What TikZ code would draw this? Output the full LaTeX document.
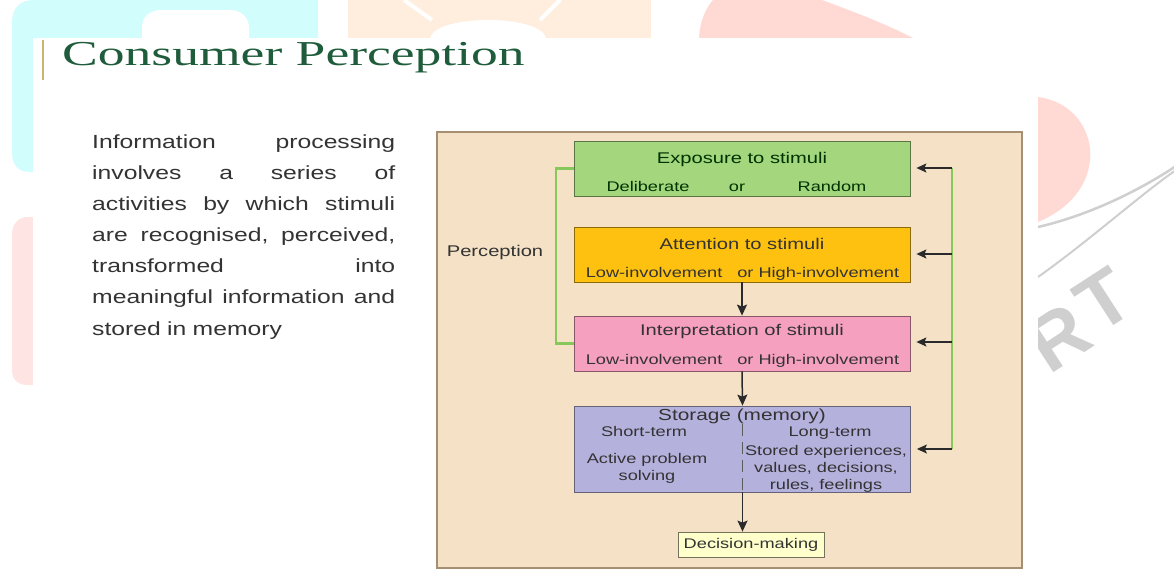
\documentclass[tikz,border=0pt]{standalone}
\usepackage{fontspec}
\setmainfont{Liberation Sans}
\newfontfamily\sfst[FakeStretch=1.3]{Liberation Sans}
\newfontfamily\titlefnt[FakeStretch=1.53]{Liberation Serif}
\newfontfamily\wmfnt{Liberation Sans}
\usetikzlibrary{arrows.meta}
\definecolor{titlegreen}{HTML}{1F5C3B}
\definecolor{bartan}{HTML}{C8B46E}
\definecolor{paratext}{HTML}{333333}
\definecolor{panelfill}{HTML}{F5E1C6}
\definecolor{panelborder}{HTML}{A58E72}
\definecolor{boxgreen}{HTML}{A4D67E}
\definecolor{boxorange}{HTML}{FEC10F}
\definecolor{boxpink}{HTML}{F5A0BF}
\definecolor{boxpurple}{HTML}{B5B1DD}
\definecolor{boxyellow}{HTML}{FFFFCC}
\definecolor{glinecol}{HTML}{86C95A}
\definecolor{arrowdark}{HTML}{2A2A2A}
\definecolor{wmcyan}{HTML}{D2FDFD}
\definecolor{wmorange}{HTML}{FFEEDD}
\definecolor{wmpink}{HTML}{FFDAD5}
\definecolor{wmred}{HTML}{FFE4E4}
\definecolor{wmgrey}{HTML}{CFCFCF}
\newcommand{\jline}[1]{\leavevmode\hbox to 303pt{#1}}
\begin{document}
\begin{tikzpicture}[x=1pt,y=-1pt,
  stagebox/.style={draw=#1!55!black, fill=#1, line width=0.8pt, inner sep=0pt,
     minimum width=336pt, minimum height=55pt},
  txt/.style={inner sep=0pt, anchor=base, text=paratext, font=\sfst\fontsize{14}{16}\selectfont},
  ttl/.style={txt, font=\sfst\fontsize{15.5}{18}\selectfont},
  arr/.style={draw=arrowdark, line width=1.5pt, -{Stealth[length=11pt,width=10pt,inset=2pt]}},
  farr/.style={draw=arrowdark, line width=1.1pt, -{Stealth[length=10pt,width=9pt,inset=2pt]}},
  gline/.style={draw=glinecol, line width=2.2pt},
  divider/.style={draw=paratext!80, line width=0.8pt, dash pattern=on 12pt off 6pt},
  wmletter/.style={text=wmgrey, font=\wmfnt\bfseries\fontsize{78}{78}\selectfont, rotate=33, inner sep=0pt}
]
\useasboundingbox (0,0) rectangle (1174,574);
\fill[white] (0,0) rectangle (1174,574);

% ---- faded watermark shapes ----
\fill[wmcyan] (318,0) -- (34,0) .. controls (20,0) and (12,8) .. (12,22) -- (12,152)
   .. controls (12,165) and (18,172) .. (30,172) -- (318,172) -- cycle;
\fill[white] (142,38) -- (142,28) .. controls (142,16) and (150,10) .. (162,10) -- (230,10)
   .. controls (242,10) and (249,18) .. (249,28) -- (249,38) -- cycle;
\fill[wmred] (40,217) -- (28,217) .. controls (18,217) and (12,224) .. (12,235) -- (12,370)
   .. controls (12,380) and (18,385) .. (28,385) -- (40,385) -- cycle;
\fill[wmorange] (348,0) rectangle (651,38);
\fill[white] (430,38) .. controls (436,14) and (540,14) .. (546,38) -- cycle;
\draw[white, line width=4pt] (404,0) -- (432,20);
\draw[white, line width=4pt] (560,0) -- (540,20);
\fill[wmpink] (713,0) -- (822,0) .. controls (860,14) and (890,26) .. (913,38) -- (699,38)
   .. controls (700,20) and (706,8) .. (713,0) -- cycle;
\begin{scope}
  \clip (1038,0) rectangle (1174,574);
  \fill[wmpink] (1038,97) .. controls (1100,105) and (1115,190) .. (1038,222) -- cycle;
  \draw[wmgrey, line width=2.5pt] (1038,227) .. controls (1090,215) and (1140,190) .. (1176,166);
  \draw[wmgrey, line width=2pt] (1038,277) .. controls (1090,240) and (1140,195) .. (1176,170);
  \node[wmletter] (wmr) at (1058,338) {R};
  \node[wmletter] (wmt) at (1104,300) {T};
\end{scope}
\fill[white] (33,38) rectangle (1037,574);

% ---- title ----
\draw[bartan, line width=2pt] (43,40) -- (43,80);
\node[inner sep=0pt, anchor=base west, text=titlegreen, font=\titlefnt\fontsize{35}{40}\selectfont]
   (title) at (62,65) {Consumer Perception};

% ---- paragraph ----
\node[inner sep=0pt, anchor=north west, text width=303pt, text=paratext,
      font=\sfst\fontsize{19}{31.1}\selectfont] (para) at (92,134.5)
 {\jline{Information\hfill processing}\\
  \jline{involves\hfill a\hfill series\hfill of}\\
  \jline{activities\hfill by\hfill which\hfill stimuli}\\
  \jline{are\hfill recognised,\hfill perceived,}\\
  \jline{transformed\hfill into}\\
  \jline{meaningful\hfill information\hfill and}\\
  stored in memory};

% ---- panel ----
\draw[draw=panelborder, fill=panelfill, line width=2.5pt] (437,132) rectangle (1022,568);

% ---- stage boxes ----
\node[stagebox=boxgreen] (exp) at (742,168.5) {};
\node[stagebox=boxorange] (att) at (742,254.5) {};
\node[stagebox=boxpink] (int) at (742,343.5) {};
\node[stagebox=boxpurple, minimum height=86pt] (sto) at (742.5,449) {};
\node[draw=boxyellow!45!black, fill=boxyellow, line width=0.8pt, inner sep=0pt,
      minimum width=146pt, minimum height=25pt, font=\sfst\fontsize{14}{16}\selectfont,
      text=paratext] (dec) at (751,544.5) {Decision-making};

% ---- box texts ----
\node[ttl, text=black!80!green] (exp1) at (742,163.5) {Exposure to stimuli};
\node[txt, text=black!80!green] (exp2a) at (648,191) {Deliberate};
\node[txt, text=black!80!green] (exp2b) at (737,191) {or};
\node[txt, text=black!80!green] (exp2c) at (832,191) {Random};
\node[ttl] (att1) at (742,249.5) {Attention to stimuli};
\node[txt] (att2) at (742.5,277) {Low-involvement\hspace{15pt}or High-involvement};
\node[ttl] (int1) at (742,335.5) {Interpretation of stimuli};
\node[txt] (int2) at (742.5,364) {Low-involvement\hspace{15pt}or High-involvement};
\node[txt, font=\sfst\fontsize{16}{18}\selectfont] (sto1) at (742,420) {Storage (memory)};
\node[txt] (sto2a) at (644,436) {Short-term};
\node[txt] (sto2b) at (830,436) {Long-term};
\node[txt] (sto3a) at (647,463) {Active problem};
\node[txt] (sto4a) at (647,480) {solving};
\node[txt] (sto3b) at (826,455) {Stored experiences,};
\node[txt] (sto4b) at (826,472) {values, decisions,};
\node[txt] (sto5b) at (826,489) {rules, feelings};
\draw[divider] (742,424) -- (742,492);

% ---- perception bracket ----
\node[ttl] (perc) at (495,256.5) {Perception};
\draw[gline] (exp.west) -- ++(-18,0) |- (int.west);

% ---- feedback line ----
\coordinate (fb1) at (952,168);
\coordinate (fb2) at (952,254);
\coordinate (fb3) at (952,342);
\coordinate (fb4) at (952,449);
\draw[gline] (fb1) -- (fb4);
\draw[farr, shorten >=6pt] (fb1) -- (fb1 -| exp.east);
\draw[farr, shorten >=6pt] (fb2) -- (fb2 -| att.east);
\draw[farr, shorten >=6pt] (fb3) -- (fb3 -| int.east);
\draw[farr, shorten >=6pt] (fb4) -- (fb4 -| sto.east);

% ---- main flow ----
\draw[arr] (att.south) -- (int.north);
\draw[arr] (int.south) -- (sto.north);
\draw[arr] (sto.south) -- (sto.south |- dec.north);
\end{tikzpicture}
\end{document}
